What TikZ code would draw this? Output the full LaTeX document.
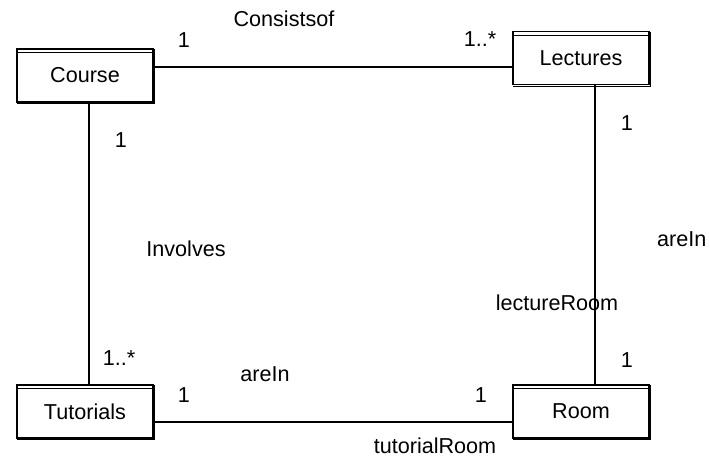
\documentclass[tikz,border=0pt]{standalone}
\usepackage{fontspec}
\setmainfont{Liberation Sans}

\begin{document}
\begin{tikzpicture}[x=1pt,y=-1pt,
    font=\fontsize{21.6}{25}\selectfont,
    classbox/.style={draw, line width=1.4pt, minimum width=136pt, minimum height=53pt, inner sep=0pt},
    role/.style={anchor=base, inner sep=0pt},
    assoc/.style={line width=1.3pt}]

    \useasboundingbox (0,0) rectangle (710,457);

    \node [classbox] (course) at (85,75.5) {Course};
    \node [classbox] (lectures) at (581,58) {Lectures};
    \node [classbox] (tutorials) at (85,411.5) {Tutorials};
    \node [classbox] (room) at (581,411.5) {Room};

    \foreach \cls in {course,lectures,tutorials,room} {
        \draw [line width=0.8pt] ([yshift=-4.5pt]\cls.north west) -- ([yshift=-4.5pt]\cls.north east);
        \draw [line width=1pt] ([shift={(1pt,-1pt)}]\cls.north east) -- ([shift={(1pt,-1pt)}]\cls.south east) -- ([shift={(1pt,-1pt)}]\cls.south west);
    }

    \draw [assoc] ([yshift=8.5pt]course.east) -- ([yshift=8.5pt]course.east -| lectures.west);
    \draw [assoc] ([xshift=4pt]course.south) -- ([xshift=4pt]course.south |- tutorials.north);
    \draw [assoc] ([xshift=14pt]lectures.south) -- ([xshift=14pt]lectures.south |- room.north);
    \draw [assoc] ([yshift=-10.5pt]tutorials.east) -- ([yshift=-10.5pt]tutorials.east -| room.west);

    \node [role] (consistsof) at (284,27) {Consistsof};
    \node [role] (courseone) at (184,48) {1};
    \node [role] (lecturesmany) at (480,47) {1..*};

    \node [role] (courseinv) at (121,148) {1};
    \node [role] (involves) at (186,257) {Involves};
    \node [role] (tutorialsmany) at (119,365) {1..*};

    \node [role] (lecturesone) at (627,131) {1};
    \node [role, anchor=base west] (areinlec) at (657,247) {areIn};
    \node [role] (lectureroom) at (557,310) {lectureRoom};
    \node [role] (roomlec) at (627,367) {1};

    \node [role] (areintut) at (265,381) {areIn};
    \node [role] (tutorialsone) at (184,402) {1};
    \node [role] (roomtut) at (481,402) {1};
    \node [role] (tutorialroom) at (435,453) {tutorialRoom};

\end{tikzpicture}
\end{document}
